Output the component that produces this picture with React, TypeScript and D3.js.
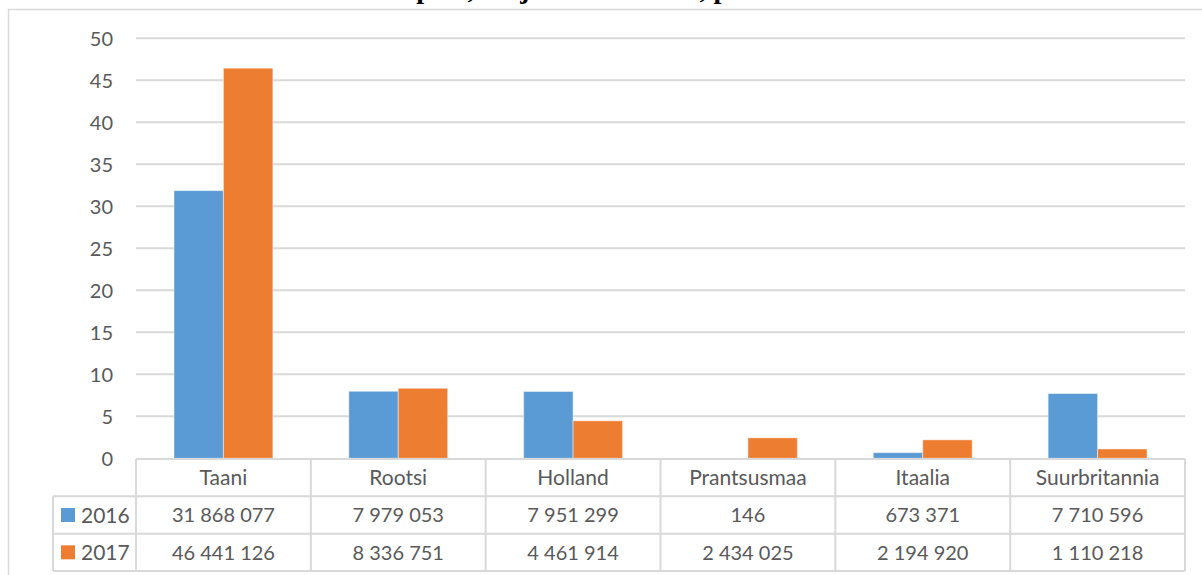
import React from 'react';
import { scaleBand, scaleLinear, range } from 'd3';

const categories = ['Taani', 'Rootsi', 'Holland', 'Prantsusmaa', 'Itaalia', 'Suurbritannia'];
const series = ['2016', '2017'];
const values2016 = [31868077, 7979053, 7951299, 146, 673371, 7710596];
const values2017 = [46441126, 8336751, 4461914, 2434025, 2194920, 1110218];
const yTicks = range(0, 55, 5);
const colors = ['#5B9BD5', '#ED7D31'];
const title = 'Eksport, miljonites eurodes, partnerriikide lõikes';

const W = 1202;
const H = 575;
const plot = { left: 136, right: 1185, top: 38.3, bottom: 458.3 };
const tableRows = ['header', ...series];
const font = 'Lato, "Noto Sans", sans-serif';
const textColor = '#595959';
const lineColor = '#D9D9D9';

// show numbers with a space as thousands separator
const fmt = (n: number) => String(n).replace(/\B(?=(\d{3})+(?!\d))/g, ' ');

const App: React.FC = () => {
  const values = [values2016, values2017];

  const xScale = scaleBand<string>()
    .domain(categories)
    .range([plot.left, plot.right]);

  const xSub = scaleBand<string>()
    .domain(series)
    .range([0, xScale.bandwidth()])
    .paddingInner(0)
    .paddingOuter(0.768);

  const yScale = scaleLinear().domain([0, 50]).range([plot.bottom, plot.top]);

  const rowScale = scaleBand<string>()
    .domain(tableRows)
    .range([plot.bottom + 0.7, 571]);

  const legendLeft = 53;

  return (
    <>
      <style>{`body{margin:0}`}</style>
      <svg width={W} height={H} style={{ display: 'block', background: '#fff' }}>
        {/* title, cut off above the frame: only descenders show */}
        <text
          x={371}
          y={-2}
          fontFamily='"Liberation Serif", serif'
          fontWeight="bold"
          fontSize={28}
          fill="#000"
        >
          {title}
        </text>

        {/* chart frame */}
        <rect x={8.5} y={9.5} width={W + 20} height={H + 20} fill="none" stroke={lineColor} strokeWidth={1.5} />

        {/* gridlines + tick labels */}
        {yTicks.map(t => (
          <g key={t}>
            {t > 0 && (
              <line
                x1={plot.left}
                x2={plot.right}
                y1={yScale(t)}
                y2={yScale(t)}
                stroke={lineColor}
                strokeWidth={2}
              />
            )}
            <text
              x={113}
              y={yScale(t)}
              dy="0.36em"
              textAnchor="end"
              fontFamily={font}
              fontSize={20}
              fill={textColor}
            >
              {t}
            </text>
          </g>
        ))}

        {/* bars */}
        {categories.map((c, i) => (
          <g key={c} transform={`translate(${xScale(c)},0)`}>
            {series.map((s, j) => {
              const v = values[j][i] / 1e6;
              const y = yScale(v);
              return (
                <rect
                  key={s}
                  x={xSub(s)}
                  y={y}
                  width={xSub.bandwidth()}
                  height={yScale(0) - y}
                  fill={colors[j]}
                  stroke="#fff"
                  strokeOpacity={0.45}
                  strokeWidth={1}
                />
              );
            })}
          </g>
        ))}

        {/* data table */}
        <g fontFamily={font} fill={textColor}>
          {/* horizontal lines */}
          {tableRows.map((r, k) => (
            <line
              key={'h' + r}
              x1={k === 0 ? plot.left : legendLeft}
              x2={plot.right}
              y1={rowScale(r)}
              y2={rowScale(r)}
              stroke={lineColor}
              strokeWidth={2}
            />
          ))}
          <line
            x1={legendLeft}
            x2={plot.right}
            y1={rowScale.range()[1]}
            y2={rowScale.range()[1]}
            stroke={lineColor}
            strokeWidth={2}
          />
          {/* vertical lines */}
          <line
            x1={legendLeft}
            x2={legendLeft}
            y1={rowScale(series[0])}
            y2={rowScale.range()[1]}
            stroke={lineColor}
            strokeWidth={2}
          />
          {[...categories.map(c => xScale(c) as number), plot.right].map((x, k) => (
            <line
              key={'v' + k}
              x1={x}
              x2={x}
              y1={rowScale('header')}
              y2={rowScale.range()[1]}
              stroke={lineColor}
              strokeWidth={2}
            />
          ))}

          {/* category names */}
          {categories.map(c => (
            <text
              key={'c' + c}
              x={(xScale(c) as number) + xScale.bandwidth() / 2}
              y={(rowScale('header') as number) + rowScale.bandwidth() / 2}
              dy="0.36em"
              textAnchor="middle"
              fontSize={21}
            >
              {c}
            </text>
          ))}

          {/* legend keys + values */}
          {series.map((s, j) => {
            const yMid = (rowScale(s) as number) + rowScale.bandwidth() / 2;
            return (
              <g key={'r' + s}>
                <rect x={61} y={yMid - 7} width={14} height={14} fill={colors[j]} />
                <text x={81} y={yMid} dy="0.36em" fontSize={21}>
                  {s}
                </text>
                {categories.map((c, i) => (
                  <text
                    key={c}
                    x={(xScale(c) as number) + xScale.bandwidth() / 2}
                    y={yMid}
                    dy="0.36em"
                    textAnchor="middle"
                    fontSize={20}
                  >
                    {fmt(values[j][i])}
                  </text>
                ))}
              </g>
            );
          })}
        </g>
      </svg>
    </>
  );
};

export default App;
